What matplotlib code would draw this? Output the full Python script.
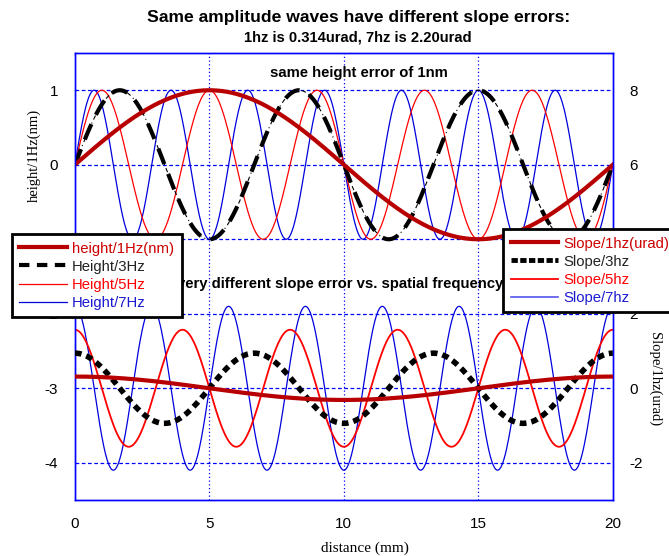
import numpy as np
import matplotlib
matplotlib.use("Agg")
import matplotlib.pyplot as plt
from matplotlib.lines import Line2D

plt.rcParams['font.family'] = ['Liberation Sans', 'DejaVu Sans']
plt.rcParams['axes.unicode_minus'] = False

# wave parameters (20 mm long, 1 nm amplitude)
length_mm = 20.0
freqs = [1, 3, 5, 7]
height_amp = [1.0, 1.0, 1.0, 1.0]           # nm
slope_amp = [0.314, 0.942, 1.571, 2.199]    # urad (title: 1hz 0.314, 7hz 2.20)

height_labels = ["height/1Hz(nm)", "Height/3Hz", "Height/5Hz", "Height/7Hz"]
slope_labels = ["Slope/1hz(urad)", "Slope/3hz", "Slope/5hz", "Slope/7hz"]
left_ticks = [1, 0, -1, -2, -3, -4]
left_ticklabels = ["1", "0", "", "-2", "-3", "-4"]      # -1 sits under the legend
right_ticks = [8, 6, 4, 2, 0, -2]
right_ticklabels = ["8", "6", "", "2", "0", "-2"]       # 4 sits under the legend
x_ticks = [0, 5, 10, 15, 20]

dark_red = "#b80000"
red = "#ff0000"
blue = "#0000dd"

x = np.linspace(0, length_mm, 801)

fig = plt.figure(figsize=(6.69, 5.56), dpi=100)
ax = fig.add_axes([0.112, 0.1007, 0.804, 0.804])
ax2 = ax.twinx()

# grid
for xv in x_ticks[1:-1]:
    ax.axvline(xv, color="#0000ff", lw=0.9, ls=(0, (1, 2)), zorder=0)
for yv in left_ticks:
    ax.axhline(yv, color="#0000ff", lw=0.9, ls=(0, (3, 2)), zorder=0)

# height waves (left axis)
h = [a * np.sin(2 * np.pi * f * x / length_mm) for f, a in zip(freqs, height_amp)]
ax.plot(x, h[3], color=blue, lw=0.9, zorder=2)
ax.plot(x, h[2], color=red, lw=0.9, zorder=2)
ax.plot(x, h[1], color="black", lw=0.8, ls=(0, (4, 3, 1, 3)), zorder=3)
ax.plot(x, h[1], color="black", lw=3, ls=(0, (4, 2.5)), zorder=3)
ax.plot(x, h[0], color=dark_red, lw=3, zorder=4)

# slope waves (right axis)
s = [a * np.cos(2 * np.pi * f * x / length_mm) for f, a in zip(freqs, slope_amp)]
ax2.plot(x, s[3], color=blue, lw=0.9, zorder=2)
ax2.plot(x, s[2], color=red, lw=1.3, zorder=2)
ax2.plot(x, s[1], color="black", lw=4, ls=(0, (1.2, 0.9)), zorder=3)
ax2.plot(x, s[0], color=dark_red, lw=3, zorder=4)

ax.set_xlim(0, 20)
ax.set_ylim(-4.5, 1.5)
ax2.set_ylim(-3, 9)
ax.set_xticks(x_ticks)
ax.set_yticks(left_ticks, left_ticklabels)
ax2.set_yticks(right_ticks, right_ticklabels)
for a in (ax, ax2):
    a.tick_params(length=0, labelsize=11, pad=12)
    for sp in a.spines.values():
        sp.set_color("#0000ff")
        sp.set_linewidth(1)

serif = ['Liberation Serif', 'DejaVu Serif']
ax.set_xlabel("distance (mm)", family=serif, fontsize=11, va='center')
ax.xaxis.set_label_coords(0.539, -0.107)
ax.set_ylabel("height/1Hz(nm)", family=serif, fontsize=10.5, va='center')
ax.yaxis.set_label_coords(-0.075, 0.77)
ax2.set_ylabel("Slope/1hz(urad)", family=serif, fontsize=10.5, rotation=270, va='center')
ax2.yaxis.set_label_coords(1.078, 0.27)

ax.text(7.25, 1.23, "same height error of 1nm", fontsize=10.7, fontweight='bold',
        ha='left', va='center', zorder=5)
ax.text(3.79, -1.6, "very different slope error vs. spatial frequency", fontsize=10.7,
        fontweight='bold', ha='left', va='center', zorder=5)

fig.text(0.536, 0.969, "Same amplitude waves have different slope errors:",
         fontsize=12.6, fontweight='bold', ha='center', va='center')
fig.text(0.535, 0.933, "1hz is 0.314urad, 7hz is 2.20urad",
         fontsize=10.6, fontweight='bold', ha='center', va='center')

# legends
hh = [Line2D([], [], color=dark_red, lw=3),
      Line2D([], [], color="black", lw=3, ls=(0, (2.5, 1.8))),
      Line2D([], [], color=red, lw=0.9),
      Line2D([], [], color=blue, lw=0.9)]
sh = [Line2D([], [], color=dark_red, lw=3),
      Line2D([], [], color="black", lw=3.5, ls=(0, (1.3, 0.5))),
      Line2D([], [], color=red, lw=1.3),
      Line2D([], [], color="#5555ee", lw=1.2)]
text_colors = ["#cc0000", "#222222", red, "#1a1ad0"]

for handles, labels, anchor in ((hh, height_labels, (0.018, 0.579)),
                                (sh, slope_labels, (0.752, 0.588))):
    leg = fig.legend(handles, labels, loc='upper left', bbox_to_anchor=anchor,
                     borderaxespad=0, fontsize=10.7, handlelength=3.2, handletextpad=0.35,
                     labelspacing=0.28, borderpad=0.5, fancybox=False, framealpha=1,
                     edgecolor="black")
    leg.get_frame().set_linewidth(2)
    for t, c in zip(leg.get_texts(), text_colors):
        t.set_color(c)

fig.savefig("out.png", dpi=100)
